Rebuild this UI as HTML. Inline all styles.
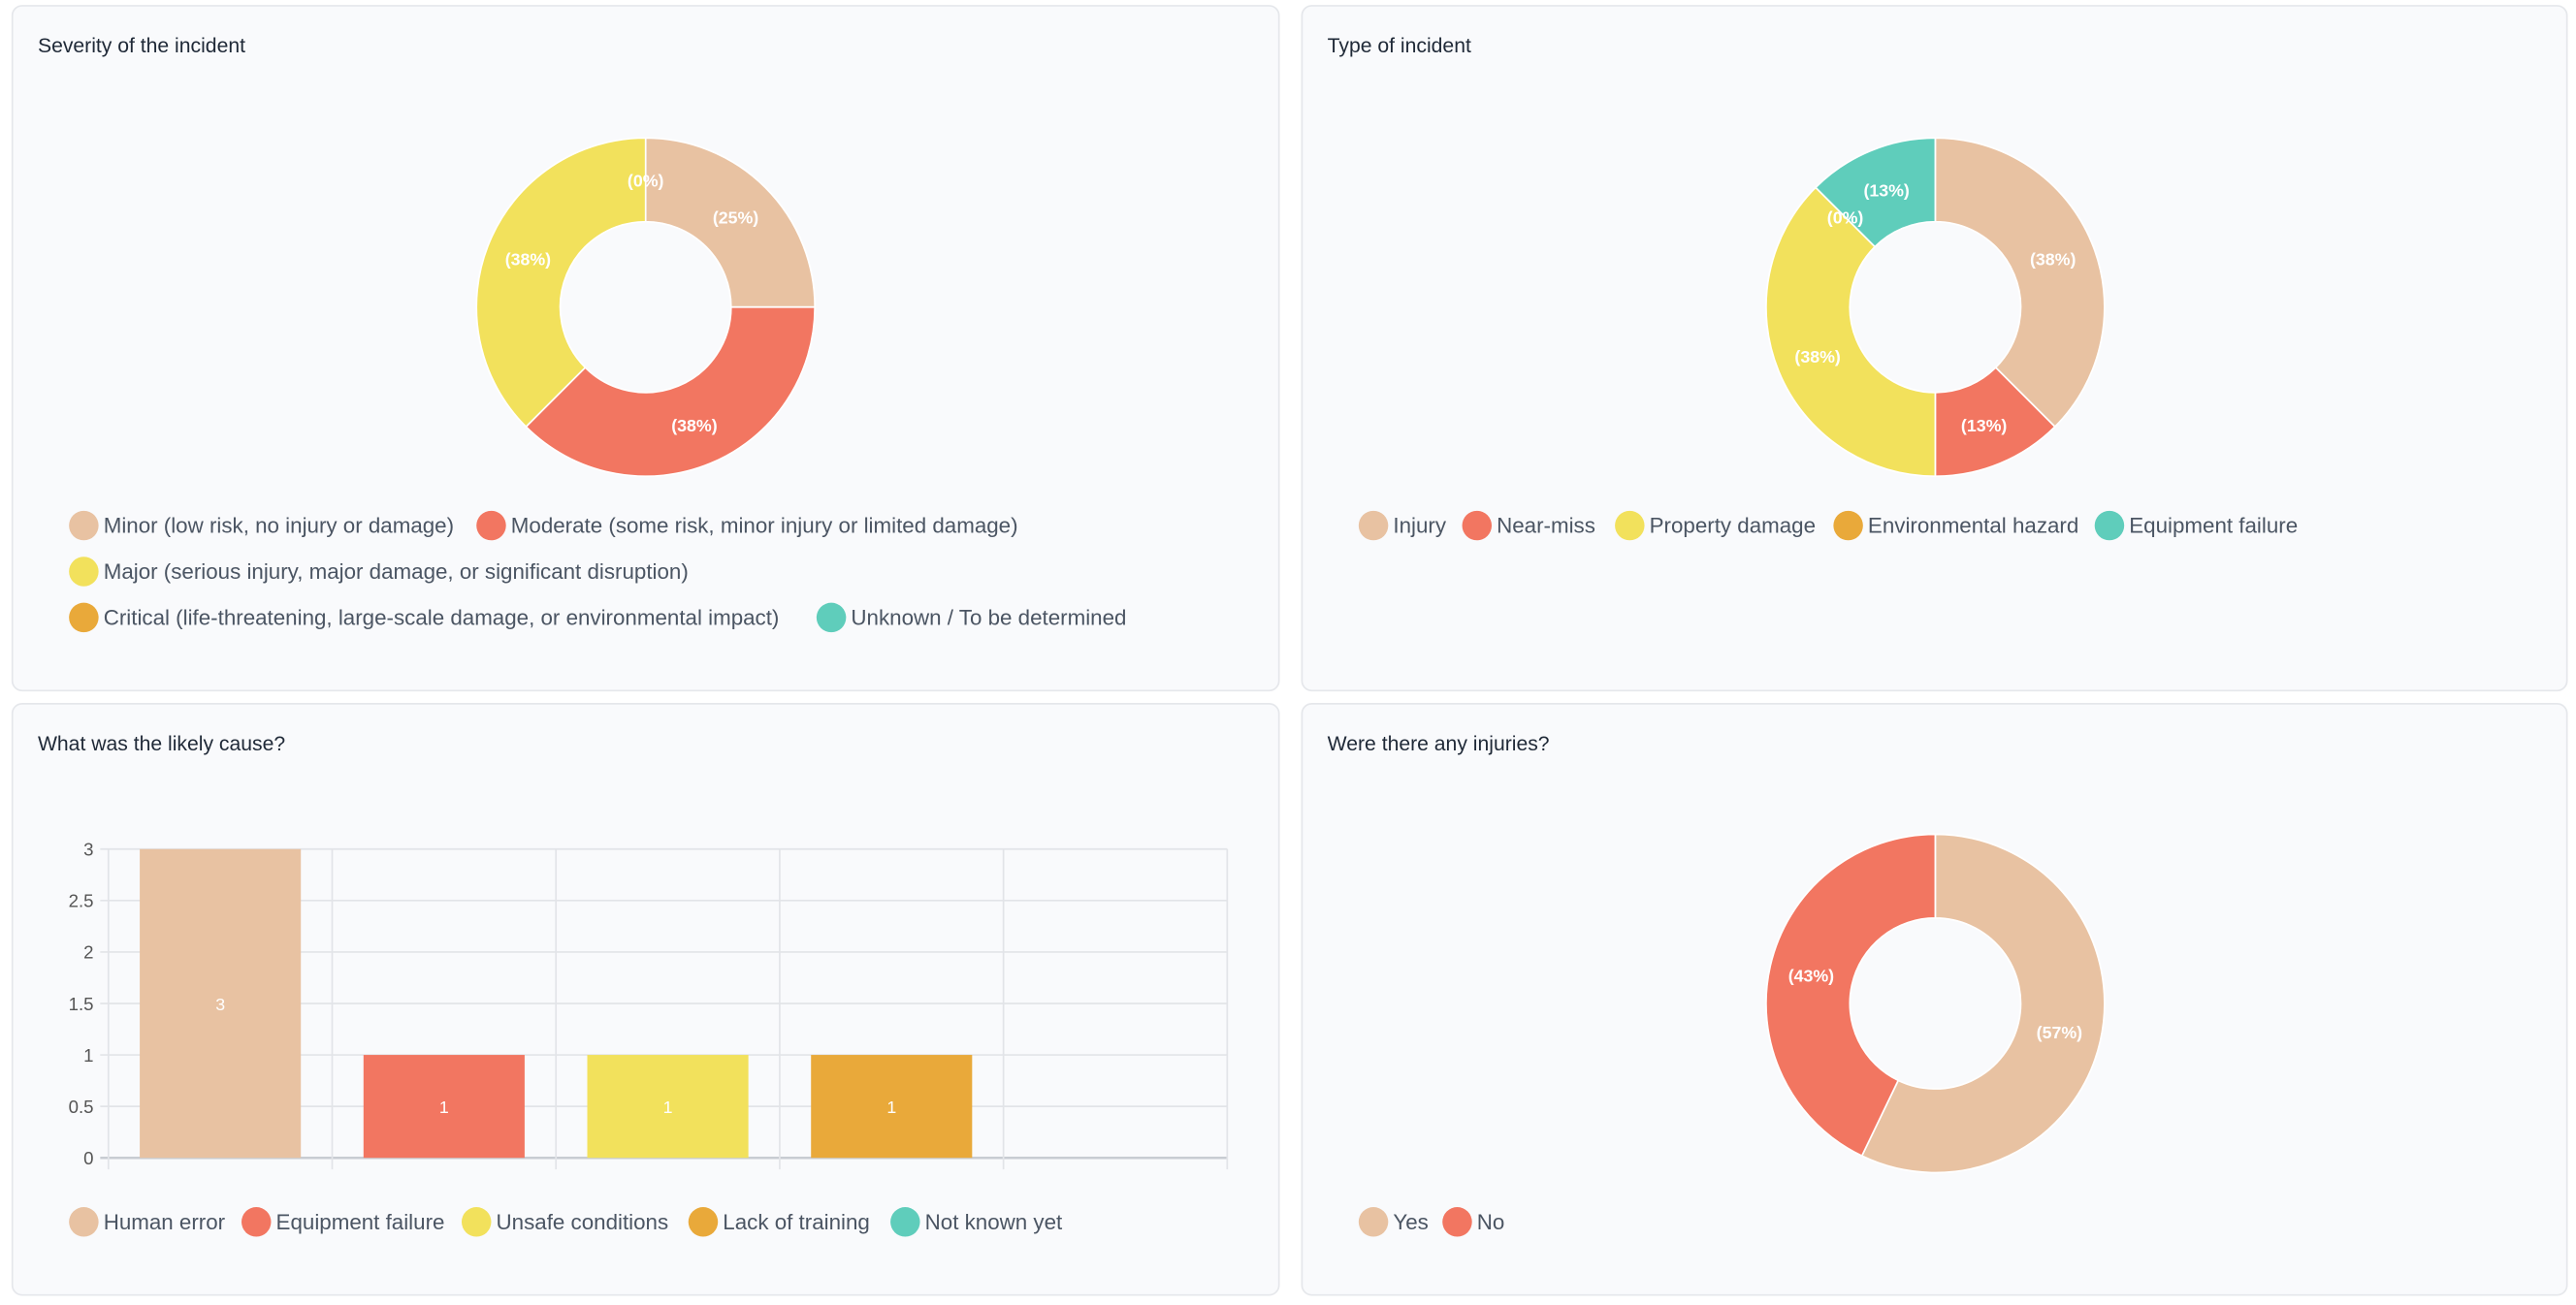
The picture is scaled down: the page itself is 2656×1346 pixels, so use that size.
<!DOCTYPE html>
<html><head><meta charset="utf-8"><style>
html,body{margin:0;padding:0;background:#fff;width:2656px;height:1346px;overflow:hidden}
svg{display:block}
text{font-family:"Liberation Sans",sans-serif}
</style></head><body>
<svg id="root" width="2656" height="1346" viewBox="0 0 1568 794.6" preserveAspectRatio="none" xmlns="http://www.w3.org/2000/svg">
<g>
<rect x="7.5" y="3.5" width="771" height="417" rx="6" fill="#f9fafc" stroke="#e5e7eb"/>
<text x="23" y="32" font-size="12.5" fill="#1f2937">Severity of the incident</text>
<g id="sev"></g></g>
<g>
<rect x="792.5" y="3.5" width="770" height="417" rx="6" fill="#f9fafc" stroke="#e5e7eb"/>
<text x="808" y="32" font-size="12.5" fill="#1f2937">Type of incident</text>
<g id="typ"></g></g>
<g>
<rect x="7.5" y="428.5" width="771" height="360" rx="6" fill="#f9fafc" stroke="#e5e7eb"/>
<text x="23" y="457" font-size="12.5" fill="#1f2937">What was the likely cause?</text>
<g id="bar"></g></g>
<g>
<rect x="792.5" y="428.5" width="770" height="360" rx="6" fill="#f9fafc" stroke="#e5e7eb"/>
<text x="808" y="457" font-size="12.5" fill="#1f2937">Were there any injuries?</text>
<g id="inj"></g></g>
</svg>
<script>
const COLORS=["#e8c2a2","#f27661","#f2e15c","#e9a93a","#5fcdbb"];
const sevLabels=["Minor (low risk, no injury or damage)","Moderate (some risk, minor injury or limited damage)","Major (serious injury, major damage, or significant disruption)","Critical (life-threatening, large-scale damage, or environmental impact)","Unknown / To be determined"];
const sevValues=[2,3,3,0,0];
const typeLabels=["Injury","Near-miss","Property damage","Environmental hazard","Equipment failure"];
const typeValues=[3,1,3,0,1];
const injLabels=["Yes","No"];
const injValues=[4,3];
const causeLabels=["Human error","Equipment failure","Unsafe conditions","Lack of training","Not known yet"];
const causeValues=[3,1,1,1,0];
const yTicks=[0,0.5,1,1.5,2,2.5,3];
const NS="http://www.w3.org/2000/svg";
function mk(tag,attrs,parent){const e=document.createElementNS(NS,tag);for(const k in attrs)e.setAttribute(k,attrs[k]);parent.appendChild(e);return e;}
function donut(g,cx,cy,vals,prefix,showZero){
  const R=103,r=52,tot=vals.reduce((a,b)=>a+b,0);let a0=-Math.PI/2;
  const labels=[];
  vals.forEach((v,i)=>{
    const a1=a0+v/tot*Math.PI*2;
    if(v>0){
      const big=(a1-a0)>Math.PI?1:0;
      const p=`M${cx+R*Math.cos(a0)},${cy+R*Math.sin(a0)} A${R},${R} 0 ${big} 1 ${cx+R*Math.cos(a1)},${cy+R*Math.sin(a1)} L${cx+r*Math.cos(a1)},${cy+r*Math.sin(a1)} A${r},${r} 0 ${big} 0 ${cx+r*Math.cos(a0)},${cy+r*Math.sin(a0)} Z`;
      const s=mk('path',{d:p,fill:COLORS[i],stroke:'#fff','stroke-width':1},g);
      
      
    }
    if(v>0||showZero[i]) labels.push([i,(a0+a1)/2,v]);
    a0=a1;
  });
  labels.forEach(([i,am,v])=>{
    const rm=(R+r)/2;
    const t=mk('text',{x:cx+rm*Math.cos(am),y:cy+rm*Math.sin(am)+4,'font-size':10.5,'font-weight':'bold',fill:'#fff','text-anchor':'middle'},g);
    t.textContent='('+Math.round(v/tot*100)+'%)';
    
    
  });
}
function legend(g,items,pos,prefix){
  items.forEach((lab,i)=>{
    const [x,y]=pos[i];
    const grp=mk('g',{},g);
    
    
    mk('circle',{cx:x,cy:y,r:9,fill:COLORS[i]},grp);
    const t=mk('text',{x:x+12,y:y+4.5,'font-size':13.2,fill:'#4b5563'},grp);
    t.textContent=lab;
  });
}
donut(document.getElementById('sev'),393,187,sevValues,'severity',[false,false,false,true,false]);
legend(document.getElementById('sev'),sevLabels,[[51,320],[299,320],[51,348],[51,376],[506,376]],'severity');
donut(document.getElementById('typ'),1178,187,typeValues,'type',[false,false,false,true,false]);
legend(document.getElementById('typ'),typeLabels,[[836,320],[899,320],[992,320],[1125,320],[1284,320]],'type');
donut(document.getElementById('inj'),1178,611,injValues,'injuries',[false,false]);
legend(document.getElementById('inj'),injLabels,[[836,744],[887,744]],'injuries');
(function(){
  const g=document.getElementById('bar');
  const x0=66,x1=747,yTop=517,yBot=705,yMax=3;
  const Y=v=>yBot-(v/yMax)*(yBot-yTop);
  const n=causeLabels.length,bw=(x1-x0)/n;
  yTicks.forEach(t=>{
    const l=mk('line',{x1:x0-5,x2:x1,y1:Y(t),y2:Y(t),stroke:t===0?'#c8ccd2':'#e2e4e8','stroke-width':t===0?1.5:1},g);
    
    
    const tx=mk('text',{x:x0-9,y:Y(t)+4,'font-size':11,fill:'#555','text-anchor':'end'},g);
    tx.textContent=t;
    
    
  });
  for(let i=0;i<=n;i++){
    const l=mk('line',{x1:x0+i*bw,x2:x0+i*bw,y1:yTop,y2:yBot+7,stroke:'#e2e4e8','stroke-width':1},g);
    
    
  }
  causeValues.forEach((v,i)=>{
    const cx=x0+bw*(i+0.5),w=bw*0.72;
    if(v>0){
      const b=mk('rect',{x:cx-w/2,y:Y(v),width:w,height:Y(0)-Y(v),fill:COLORS[i]},g);
      
      
      const t=mk('text',{x:cx,y:(Y(v)+Y(0))/2+4,'font-size':10.5,fill:'#fff','text-anchor':'middle'},g);
      t.textContent=v;
      
      
    }
  });
  legend(g,causeLabels,[[51,744],[156,744],[290,744],[428,744],[551,744]],'cause');
})();
</script>
</body></html>
